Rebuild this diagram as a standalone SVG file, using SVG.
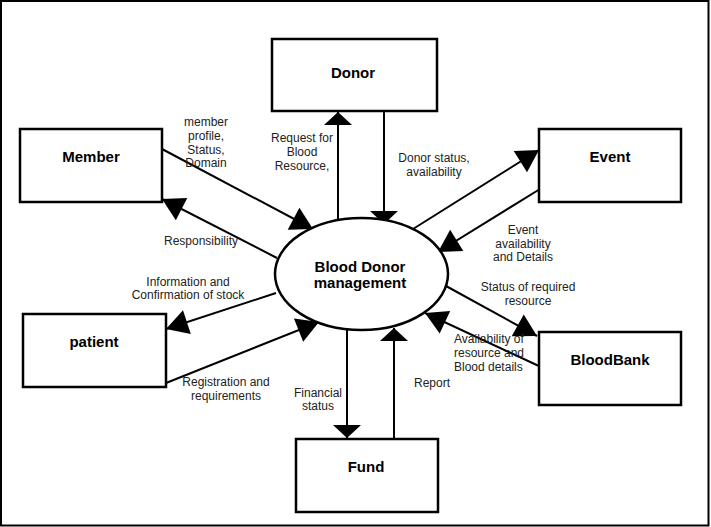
<svg xmlns="http://www.w3.org/2000/svg" width="711" height="527" viewBox="0 0 711 527">
<style>
.box{fill:#fff;stroke:#000;stroke-width:2.5}
.nt{font-family:"Liberation Sans",Arial,sans-serif;font-weight:bold;font-size:15px;fill:#000;text-anchor:middle}
.lb{font-family:"Liberation Sans",Arial,sans-serif;font-size:12px;fill:#222;text-anchor:middle}
.ls{text-anchor:start}
.ln{stroke:#000;stroke-width:2;fill:none}
.v{marker-end:url(#av)}
.d{marker-end:url(#ad)}
</style>
<defs>
<marker id="av" markerUnits="userSpaceOnUse" viewBox="-14 -15 15 30" markerWidth="15" markerHeight="30" refX="0" refY="0" orient="auto"><path d="M0,0 L-13,-14 L-13,14 Z" fill="#000"/></marker>
<marker id="ad" markerUnits="userSpaceOnUse" viewBox="-23 -14 24 28" markerWidth="24" markerHeight="28" refX="0" refY="0" orient="auto"><path d="M0,0 L-22,-12.5 L-22,12.5 Z" fill="#000"/></marker>
</defs>
<rect x="0" y="0" width="711" height="527" fill="#fff"/>
<rect x="1" y="1" width="707.5" height="524.5" fill="none" stroke="#000" stroke-width="2"/>
<g id="connectors">
<line class="ln v" x1="384" y1="112" x2="384" y2="224"/>
<line class="ln v" x1="338" y1="222" x2="338" y2="112"/>
<line class="ln d" x1="162" y1="149" x2="313" y2="229"/>
<line class="ln d" x1="277" y1="258" x2="162" y2="199"/>
<line class="ln d" x1="413" y1="229" x2="539" y2="150"/>
<line class="ln d" x1="540" y1="189" x2="438" y2="252"/>
<line class="ln d" x1="446" y1="286" x2="537" y2="336"/>
<line class="ln d" x1="541" y1="367" x2="425" y2="313"/>
<line class="ln v" x1="347" y1="329" x2="347" y2="438"/>
<line class="ln v" x1="394" y1="439" x2="394" y2="328"/>
<line class="ln d" x1="166" y1="383" x2="319" y2="322"/>
<line class="ln d" x1="276" y1="293" x2="166" y2="329"/>
</g>
<g id="center">
<ellipse cx="361.5" cy="274" rx="86.5" ry="56" fill="#fff" stroke="#000" stroke-width="2.5"/>
<text class="nt" x="360" y="272">Blood Donor</text>
<text class="nt" x="360" y="288">management</text>
</g>
<g id="donor"><rect class="box" x="272" y="39" width="165" height="72"/><text class="nt" x="353" y="78">Donor</text></g>
<g id="member"><rect class="box" x="20" y="129" width="142" height="73"/><text class="nt" x="91" y="162">Member</text></g>
<g id="event"><rect class="box" x="539" y="129" width="142" height="73"/><text class="nt" x="610" y="162">Event</text></g>
<g id="patient"><rect class="box" x="23" y="314" width="143" height="73"/><text class="nt" x="94" y="347">patient</text></g>
<g id="bloodbank"><rect class="box" x="539" y="332" width="142" height="73"/><text class="nt" x="610" y="365">BloodBank</text></g>
<g id="fund"><rect class="box" x="296" y="439" width="142" height="73"/><text class="nt" x="366" y="472">Fund</text></g>
<g id="labels">
<text class="lb" x="206" y="126">member</text>
<text class="lb" x="206" y="140">profile,</text>
<text class="lb" x="206" y="154">Status,</text>
<text class="lb" x="206" y="167">Domain</text>
<text class="lb" x="302" y="142">Request for</text>
<text class="lb" x="302" y="156">Blood</text>
<text class="lb" x="302" y="170">Resource,</text>
<text class="lb" x="201" y="245">Responsibility</text>
<text class="lb" x="434" y="162">Donor status,</text>
<text class="lb" x="434" y="176">availability</text>
<text class="lb" x="523" y="234">Event</text>
<text class="lb" x="523" y="248">availability</text>
<text class="lb" x="523" y="261">and Details</text>
<text class="lb" x="188" y="286">Information and</text>
<text class="lb" x="188" y="299">Confirmation of stock</text>
<text class="lb" x="528" y="291">Status of required</text>
<text class="lb" x="528" y="305">resource</text>
<text class="lb ls" x="454" y="343">Availability of</text>
<text class="lb ls" x="454" y="357">resource and</text>
<text class="lb ls" x="454" y="371">Blood details</text>
<text class="lb" x="226" y="386">Registration and</text>
<text class="lb" x="226" y="400">requirements</text>
<text class="lb" x="318" y="397">Financial</text>
<text class="lb" x="318" y="410">status</text>
<text class="lb" x="432" y="387">Report</text>
</g>
</svg>
